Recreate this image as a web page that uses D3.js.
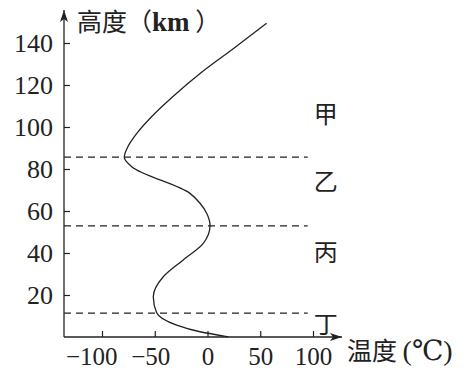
<!DOCTYPE html>
<html>
<head>
<meta charset="utf-8" />
<title>温度垂直分布</title>
<script src="https://cdnjs.cloudflare.com/ajax/libs/d3/7.8.5/d3.min.js"></script>
<style>
  body { margin: 0; padding: 0; background: #fff; }
  svg { display: block; }
</style>
</head>
<body>
<div id="chart"></div>
<script>
// temperature (°C) vs altitude (km), bottom to top
var temps = [19.7, -7.1, -29.2, -48.2, -51.4, -41.9, -23, -4, 2.4, -0.8, -7.1, -16.6, -71.8, -78.9, -75.5, -67, -53, -33, -5, 25, 56];
var alts  = [0.1, 2.5, 5.7, 11.6, 19.2, 28.7, 36.7, 44.6, 53, 58.9, 63.7, 68.4, 81.1, 85.6, 90.6, 97, 104.9, 114.4, 126.3, 137.5, 149.4];

var xTicks = [-100, -50, 0, 50, 100];
var yTicks = [20, 40, 60, 80, 100, 120, 140];

// layer boundaries (km) and layer names
var bounds = [85.7, 52.9, 11.4];
var layerNames = ["甲", "乙", "丙", "丁"];
var layerAlts = [107, 75, 41, 7];

var width = 466, height = 371;
var serif = "'Liberation Serif', 'DejaVu Serif', serif";
var cjk = "'Noto Sans CJK SC', sans-serif";
var ink = "#222";

var svg = d3.select("#chart").append("svg")
    .attr("width", width).attr("height", height);

var x = d3.scaleLinear().domain([-100, 100]).range([102, 313]);
var y = d3.scaleLinear().domain([0, 140]).range([337, 43]);

var xMin = x.invert(64), xMax = x.invert(342), yMax = y.invert(10);

// axes
var xAxis = d3.axisBottom(x).tickValues(xTicks).tickSizeInner(-6).tickSizeOuter(0).tickPadding(10);
var yAxis = d3.axisLeft(y).tickValues(yTicks).tickSizeInner(-6).tickSizeOuter(0).tickPadding(11);

var gx = svg.append("g").attr("transform", "translate(0," + y(0) + ")").call(xAxis);
var gy = svg.append("g").attr("transform", "translate(" + x(xMin) + ",0)").call(yAxis);
[gx, gy].forEach(function(g) {
  g.attr("font-family", serif).attr("font-size", 26);
  g.select(".domain").remove();
  g.selectAll(".tick line").attr("stroke", ink).attr("stroke-width", 1.2);
  g.selectAll(".tick text").attr("fill", ink);
});
gx.attr("font-size", 25);
gx.selectAll(".tick text")
    .attr("text-anchor", function(d) { return d < 0 ? "end" : "middle"; })
    .attr("dx", function(d) { return d < 0 ? 15 : 0; });

// axis lines with arrows
svg.append("line")
    .attr("x1", x(xMin)).attr("x2", x(xMax))
    .attr("y1", y(0)).attr("y2", y(0))
    .attr("stroke", ink).attr("stroke-width", 1.3);
svg.append("line")
    .attr("x1", x(xMin)).attr("x2", x(xMin))
    .attr("y1", y(0)).attr("y2", y(yMax))
    .attr("stroke", ink).attr("stroke-width", 1.3);
svg.append("path")
    .attr("d", "M" + x(xMax) + "," + y(0) + "l-12,-4 l3,4 l-3,4 z")
    .attr("fill", ink);
svg.append("path")
    .attr("d", "M" + x(xMin) + "," + y(yMax) + "l-4,12 l4,-3 l4,3 z")
    .attr("fill", ink);

// boundary lines
svg.selectAll(".bound").data(bounds).enter().append("line")
    .attr("class", "bound")
    .attr("x1", x(xMin)).attr("x2", x(95))
    .attr("y1", function(d) { return y(d); })
    .attr("y2", function(d) { return y(d); })
    .attr("stroke", ink).attr("stroke-width", 1.2)
    .attr("stroke-dasharray", "7,5");

// temperature curve (altitude is monotonic, so interpolate along y)
var pts = temps.map(function(t, i) { return [t, alts[i]]; });
var line = d3.line()
    .x(function(d) { return x(d[0]); })
    .y(function(d) { return y(d[1]); })
    .curve(d3.curveMonotoneY);
svg.append("path").datum(pts)
    .attr("d", line)
    .attr("fill", "none").attr("stroke", ink).attr("stroke-width", 1.3);

// layer names
svg.selectAll(".layer").data(layerNames).enter().append("text")
    .attr("font-family", cjk).attr("fill", ink)
    .attr("x", x(112))
    .attr("y", function(d, i) { return y(layerAlts[i]); })
    .attr("text-anchor", "middle")
    .attr("dominant-baseline", "central")
    .attr("font-size", 24)
    .text(function(d) { return d; });

// axis titles
var yt = svg.append("text").attr("font-family", cjk).attr("fill", ink)
    .attr("x", 77).attr("y", 31).attr("font-size", 25);
yt.append("tspan").text("高度（");
yt.append("tspan").attr("font-family", serif).attr("font-weight", "bold").attr("font-size", 27).text("km");
yt.append("tspan").text(" ）");

var xt = svg.append("text").attr("font-family", cjk).attr("fill", ink)
    .attr("x", 347).attr("y", 360).attr("font-size", 25);
xt.append("tspan").text("温度 ");
xt.append("tspan").attr("font-family", serif).attr("font-size", 28).text("(℃)");
</script>
</body>
</html>
